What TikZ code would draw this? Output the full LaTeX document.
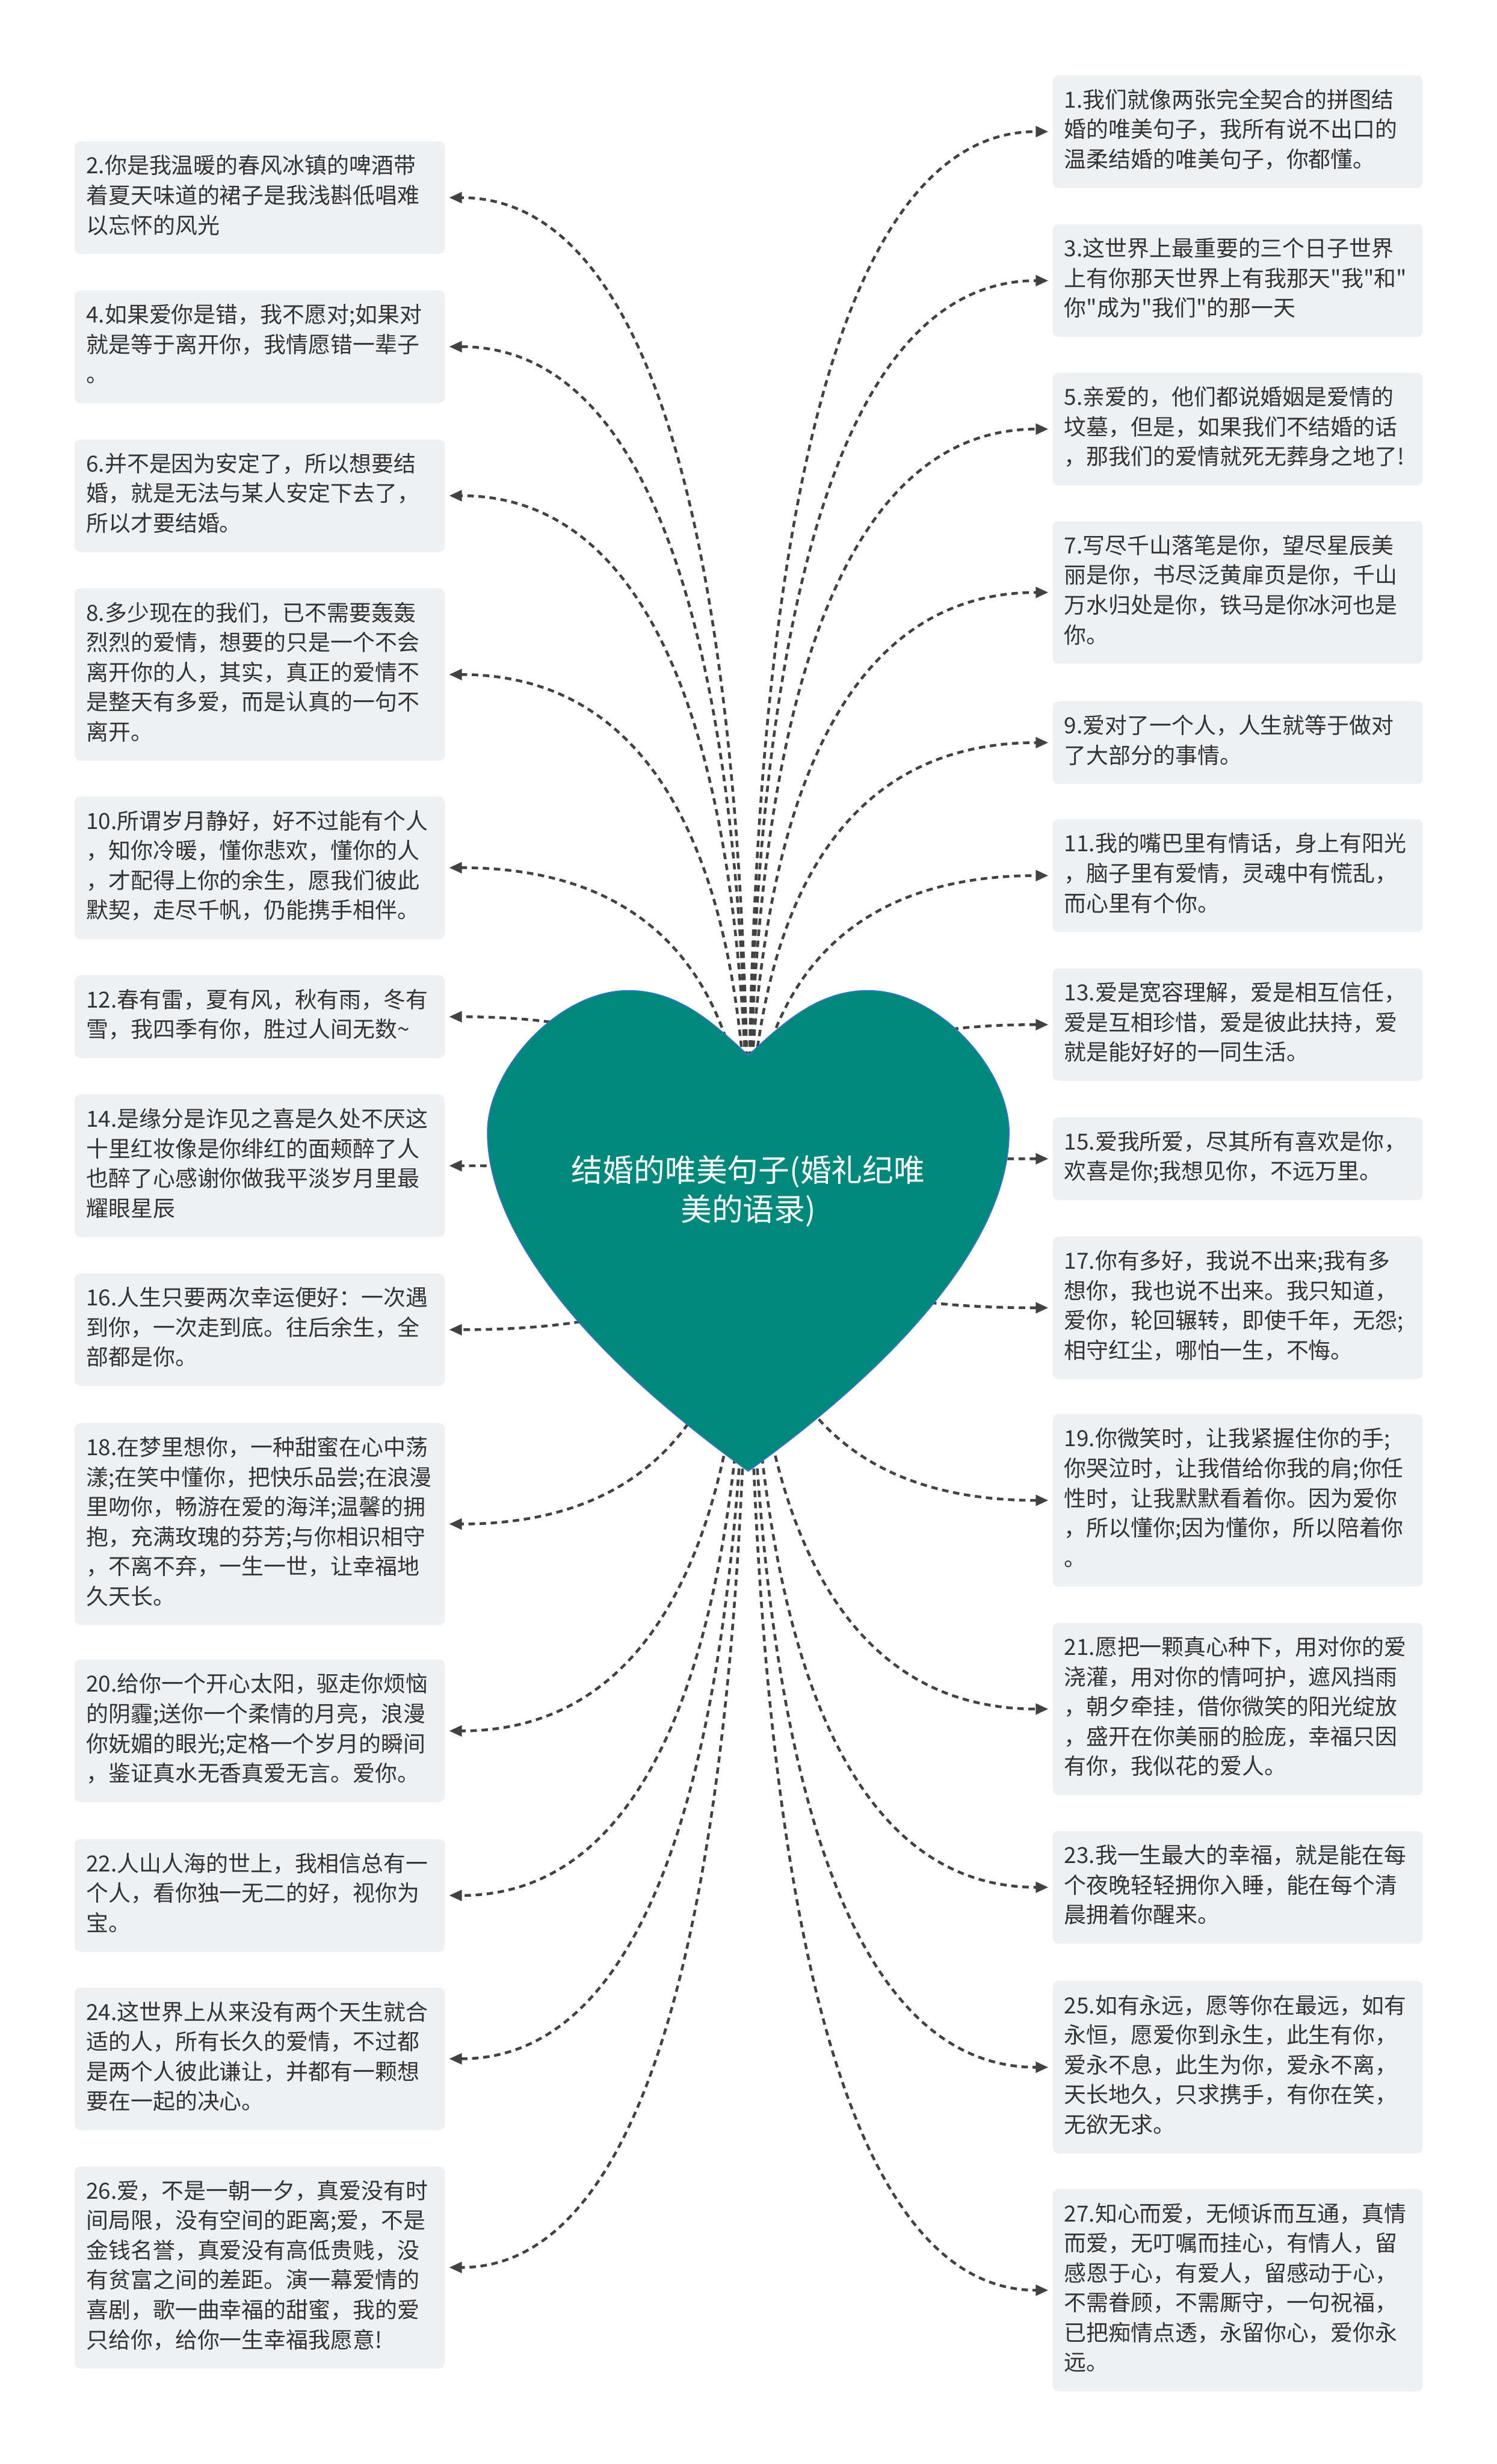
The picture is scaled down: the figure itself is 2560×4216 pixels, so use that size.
\documentclass[tikz,border=0pt]{standalone}
\usepackage{fontspec}
\setmainfont{Noto Sans CJK SC}[Ligatures=TeXOff]
\usepackage{tikz}
\usetikzlibrary{calc, arrows.meta}
\usepackage{xcolor}

\definecolor{heartteal}{HTML}{00897B}
\definecolor{heartline}{HTML}{2F74C8}
\definecolor{boxgray}{HTML}{EEF1F4}
\definecolor{inkgray}{HTML}{333333}
\definecolor{wiregray}{HTML}{424242}

\pgfdeclarelayer{wires}
\pgfdeclarelayer{shape}
\pgfsetlayers{wires,shape,main}

\tikzset{
    quote/.style={fill=boxgray, rounded corners=3pt, text=inkgray, anchor=north west,
        text width=178pt, align=left, inner xsep=6pt, inner ysep=6pt,
        font=\fontsize{11.4}{15.3}\selectfont,
        execute at begin node=\strut, execute at end node=\strut},
    link/.style={wiregray, line width=1.4pt, dash pattern=on 3.3pt off 2.4pt,
        -{Triangle[length=6.5pt, width=5.5pt]}, shorten >=2pt,
        to path={.. controls ($(\tikztostart)!2/3!(\tikztostart |- \tikztotarget)$)
            and ($(\tikztotarget)!2/3!(\tikztostart |- \tikztotarget)$) .. (\tikztotarget)}},
}

\begin{document}
\begin{tikzpicture}[x=0.3pt, y=-0.3pt]
    \useasboundingbox (0, 0) rectangle (2560, 4216);

    \node[text=white, align=center, font=\fontsize{16}{20}\selectfont] (root) at (1280, 2038) {结婚的唯美句子(婚礼纪唯\\美的语录)};

    \node[quote] (q1) at (1800, 128) {1.我们就像两张完全契合的拼图结\\婚的唯美句子，我所有说不出口的\\温柔结婚的唯美句子，你都懂。};
    \node[quote] (q2) at (127, 241) {2.你是我温暖的春风冰镇的啤酒带\\着夏天味道的裙子是我浅斟低唱难\\以忘怀的风光};
    \node[quote] (q3) at (1800, 383) {3.这世界上最重要的三个日子世界\\上有你那天世界上有我那天"我"和"\\你"成为"我们"的那一天};
    \node[quote] (q4) at (127, 496) {4.如果爱你是错，我不愿对;如果对\\就是等于离开你，我情愿错一辈子\\。};
    \node[quote] (q5) at (1800, 637) {5.亲爱的，他们都说婚姻是爱情的\\坟墓，但是，如果我们不结婚的话\\，那我们的爱情就死无葬身之地了!};
    \node[quote] (q6) at (127, 751) {6.并不是因为安定了，所以想要结\\婚，就是无法与某人安定下去了，\\所以才要结婚。};
    \node[quote] (q7) at (1800, 891) {7.写尽千山落笔是你，望尽星辰美\\丽是你，书尽泛黄扉页是你，千山\\万水归处是你，铁马是你冰河也是\\你。};
    \node[quote] (q8) at (127, 1006) {8.多少现在的我们，已不需要轰轰\\烈烈的爱情，想要的只是一个不会\\离开你的人，其实，真正的爱情不\\是整天有多爱，而是认真的一句不\\离开。};
    \node[quote] (q9) at (1800, 1199) {9.爱对了一个人，人生就等于做对\\了大部分的事情。};
    \node[quote] (q10) at (127, 1362) {10.所谓岁月静好，好不过能有个人\\，知你冷暖，懂你悲欢，懂你的人\\，才配得上你的余生，愿我们彼此\\默契，走尽千帆，仍能携手相伴。};
    \node[quote] (q11) at (1800, 1401) {11.我的嘴巴里有情话，身上有阳光\\，脑子里有爱情，灵魂中有慌乱，\\而心里有个你。};
    \node[quote] (q12) at (127, 1668) {12.春有雷，夏有风，秋有雨，冬有\\雪，我四季有你，胜过人间无数\textasciitilde};
    \node[quote] (q13) at (1800, 1656) {13.爱是宽容理解，爱是相互信任，\\爱是互相珍惜，爱是彼此扶持，爱\\就是能好好的一同生活。};
    \node[quote] (q14) at (127, 1872) {14.是缘分是诈见之喜是久处不厌这\\十里红妆像是你绯红的面颊醉了人\\也醉了心感谢你做我平淡岁月里最\\耀眼星辰};
    \node[quote] (q15) at (1800, 1911) {15.爱我所爱，尽其所有喜欢是你，\\欢喜是你;我想见你，不远万里。};
    \node[quote] (q16) at (127, 2178) {16.人生只要两次幸运便好：一次遇\\到你，一次走到底。往后余生，全\\部都是你。};
    \node[quote] (q17) at (1800, 2115) {17.你有多好，我说不出来;我有多\\想你，我也说不出来。我只知道，\\爱你，轮回辗转，即使千年，无怨;\\相守红尘，哪怕一生，不悔。};
    \node[quote] (q18) at (127, 2434) {18.在梦里想你，一种甜蜜在心中荡\\漾;在笑中懂你，把快乐品尝;在浪漫\\里吻你，畅游在爱的海洋;温馨的拥\\抱，充满玫瑰的芬芳;与你相识相守\\，不离不弃，一生一世，让幸福地\\久天长。};
    \node[quote] (q19) at (1800, 2419) {19.你微笑时，让我紧握住你的手;\\你哭泣时，让我借给你我的肩;你任\\性时，让我默默看着你。因为爱你\\，所以懂你;因为懂你，所以陪着你\\。};
    \node[quote] (q20) at (127, 2839) {20.给你一个开心太阳，驱走你烦恼\\的阴霾;送你一个柔情的月亮，浪漫\\你妩媚的眼光;定格一个岁月的瞬间\\，鉴证真水无香真爱无言。爱你。};
    \node[quote] (q21) at (1800, 2776) {21.愿把一颗真心种下，用对你的爱\\浇灌，用对你的情呵护，遮风挡雨\\，朝夕牵挂，借你微笑的阳光绽放\\，盛开在你美丽的脸庞，幸福只因\\有你，我似花的爱人。};
    \node[quote] (q22) at (127, 3146) {22.人山人海的世上，我相信总有一\\个人，看你独一无二的好，视你为\\宝。};
    \node[quote] (q23) at (1800, 3132) {23.我一生最大的幸福，就是能在每\\个夜晚轻轻拥你入睡，能在每个清\\晨拥着你醒来。};
    \node[quote] (q24) at (127, 3400) {24.这世界上从来没有两个天生就合\\适的人，所有长久的爱情，不过都\\是两个人彼此谦让，并都有一颗想\\要在一起的决心。};
    \node[quote] (q25) at (1800, 3389) {25.如有永远，愿等你在最远，如有\\永恒，愿爱你到永生，此生有你，\\爱永不息，此生为你，爱永不离，\\天长地久，只求携手，有你在笑，\\无欲无求。};
    \node[quote] (q26) at (127, 3706) {26.爱，不是一朝一夕，真爱没有时\\间局限，没有空间的距离;爱，不是\\金钱名誉，真爱没有高低贵贱，没\\有贫富之间的差距。演一幕爱情的\\喜剧，歌一曲幸福的甜蜜，我的爱\\只给你，给你一生幸福我愿意!};
    \node[quote] (q27) at (1800, 3745) {27.知心而爱，无倾诉而互通，真情\\而爱，无叮嘱而挂心，有情人，留\\感恩于心，有爱人，留感动于心，\\不需眷顾，不需厮守，一句祝福，\\已把痴情点透，永留你心，爱你永\\远。};

    \begin{pgfonlayer}{wires}
        \fill[white] (0, 0) rectangle (2560, 4216);
        \draw[link] (root.center) to (q1.west);
        \draw[link] (root.center) to (q2.east);
        \draw[link] (root.center) to (q3.west);
        \draw[link] (root.center) to (q4.east);
        \draw[link] (root.center) to (q5.west);
        \draw[link] (root.center) to (q6.east);
        \draw[link] (root.center) to (q7.west);
        \draw[link] (root.center) to (q8.east);
        \draw[link] (root.center) to (q9.west);
        \draw[link] (root.center) to (q10.east);
        \draw[link] (root.center) to (q11.west);
        \draw[link] (root.center) to (q12.east);
        \draw[link] (root.center) to (q13.west);
        \draw[link] (root.center) to (q14.east);
        \draw[link] (root.center) to (q15.west);
        \draw[link] (root.center) to (q16.east);
        \draw[link] (root.center) to (q17.west);
        \draw[link] (root.center) to (q18.east);
        \draw[link] (root.center) to (q19.west);
        \draw[link] (root.center) to (q20.east);
        \draw[link] (root.center) to (q21.west);
        \draw[link] (root.center) to (q22.east);
        \draw[link] (root.center) to (q23.west);
        \draw[link] (root.center) to (q24.east);
        \draw[link] (root.center) to (q25.west);
        \draw[link] (root.center) to (q26.east);
        \draw[link] (root.center) to (q27.west);
    \end{pgfonlayer}

    \begin{pgfonlayer}{shape}
        \filldraw[fill=heartteal, draw=heartline, line width=0.6pt]
            (1280, 1806) .. controls (1340, 1750) and (1400, 1695) .. (1485, 1695)
            .. controls (1605, 1695) and (1726, 1830) .. (1726, 1937)
            .. controls (1726, 2120) and (1540, 2330) .. (1280, 2517)
            .. controls (1020, 2330) and (834, 2120) .. (834, 1937)
            .. controls (834, 1830) and (955, 1695) .. (1075, 1695)
            .. controls (1160, 1695) and (1220, 1750) .. (1280, 1806) -- cycle;
    \end{pgfonlayer}
\end{tikzpicture}
\end{document}
